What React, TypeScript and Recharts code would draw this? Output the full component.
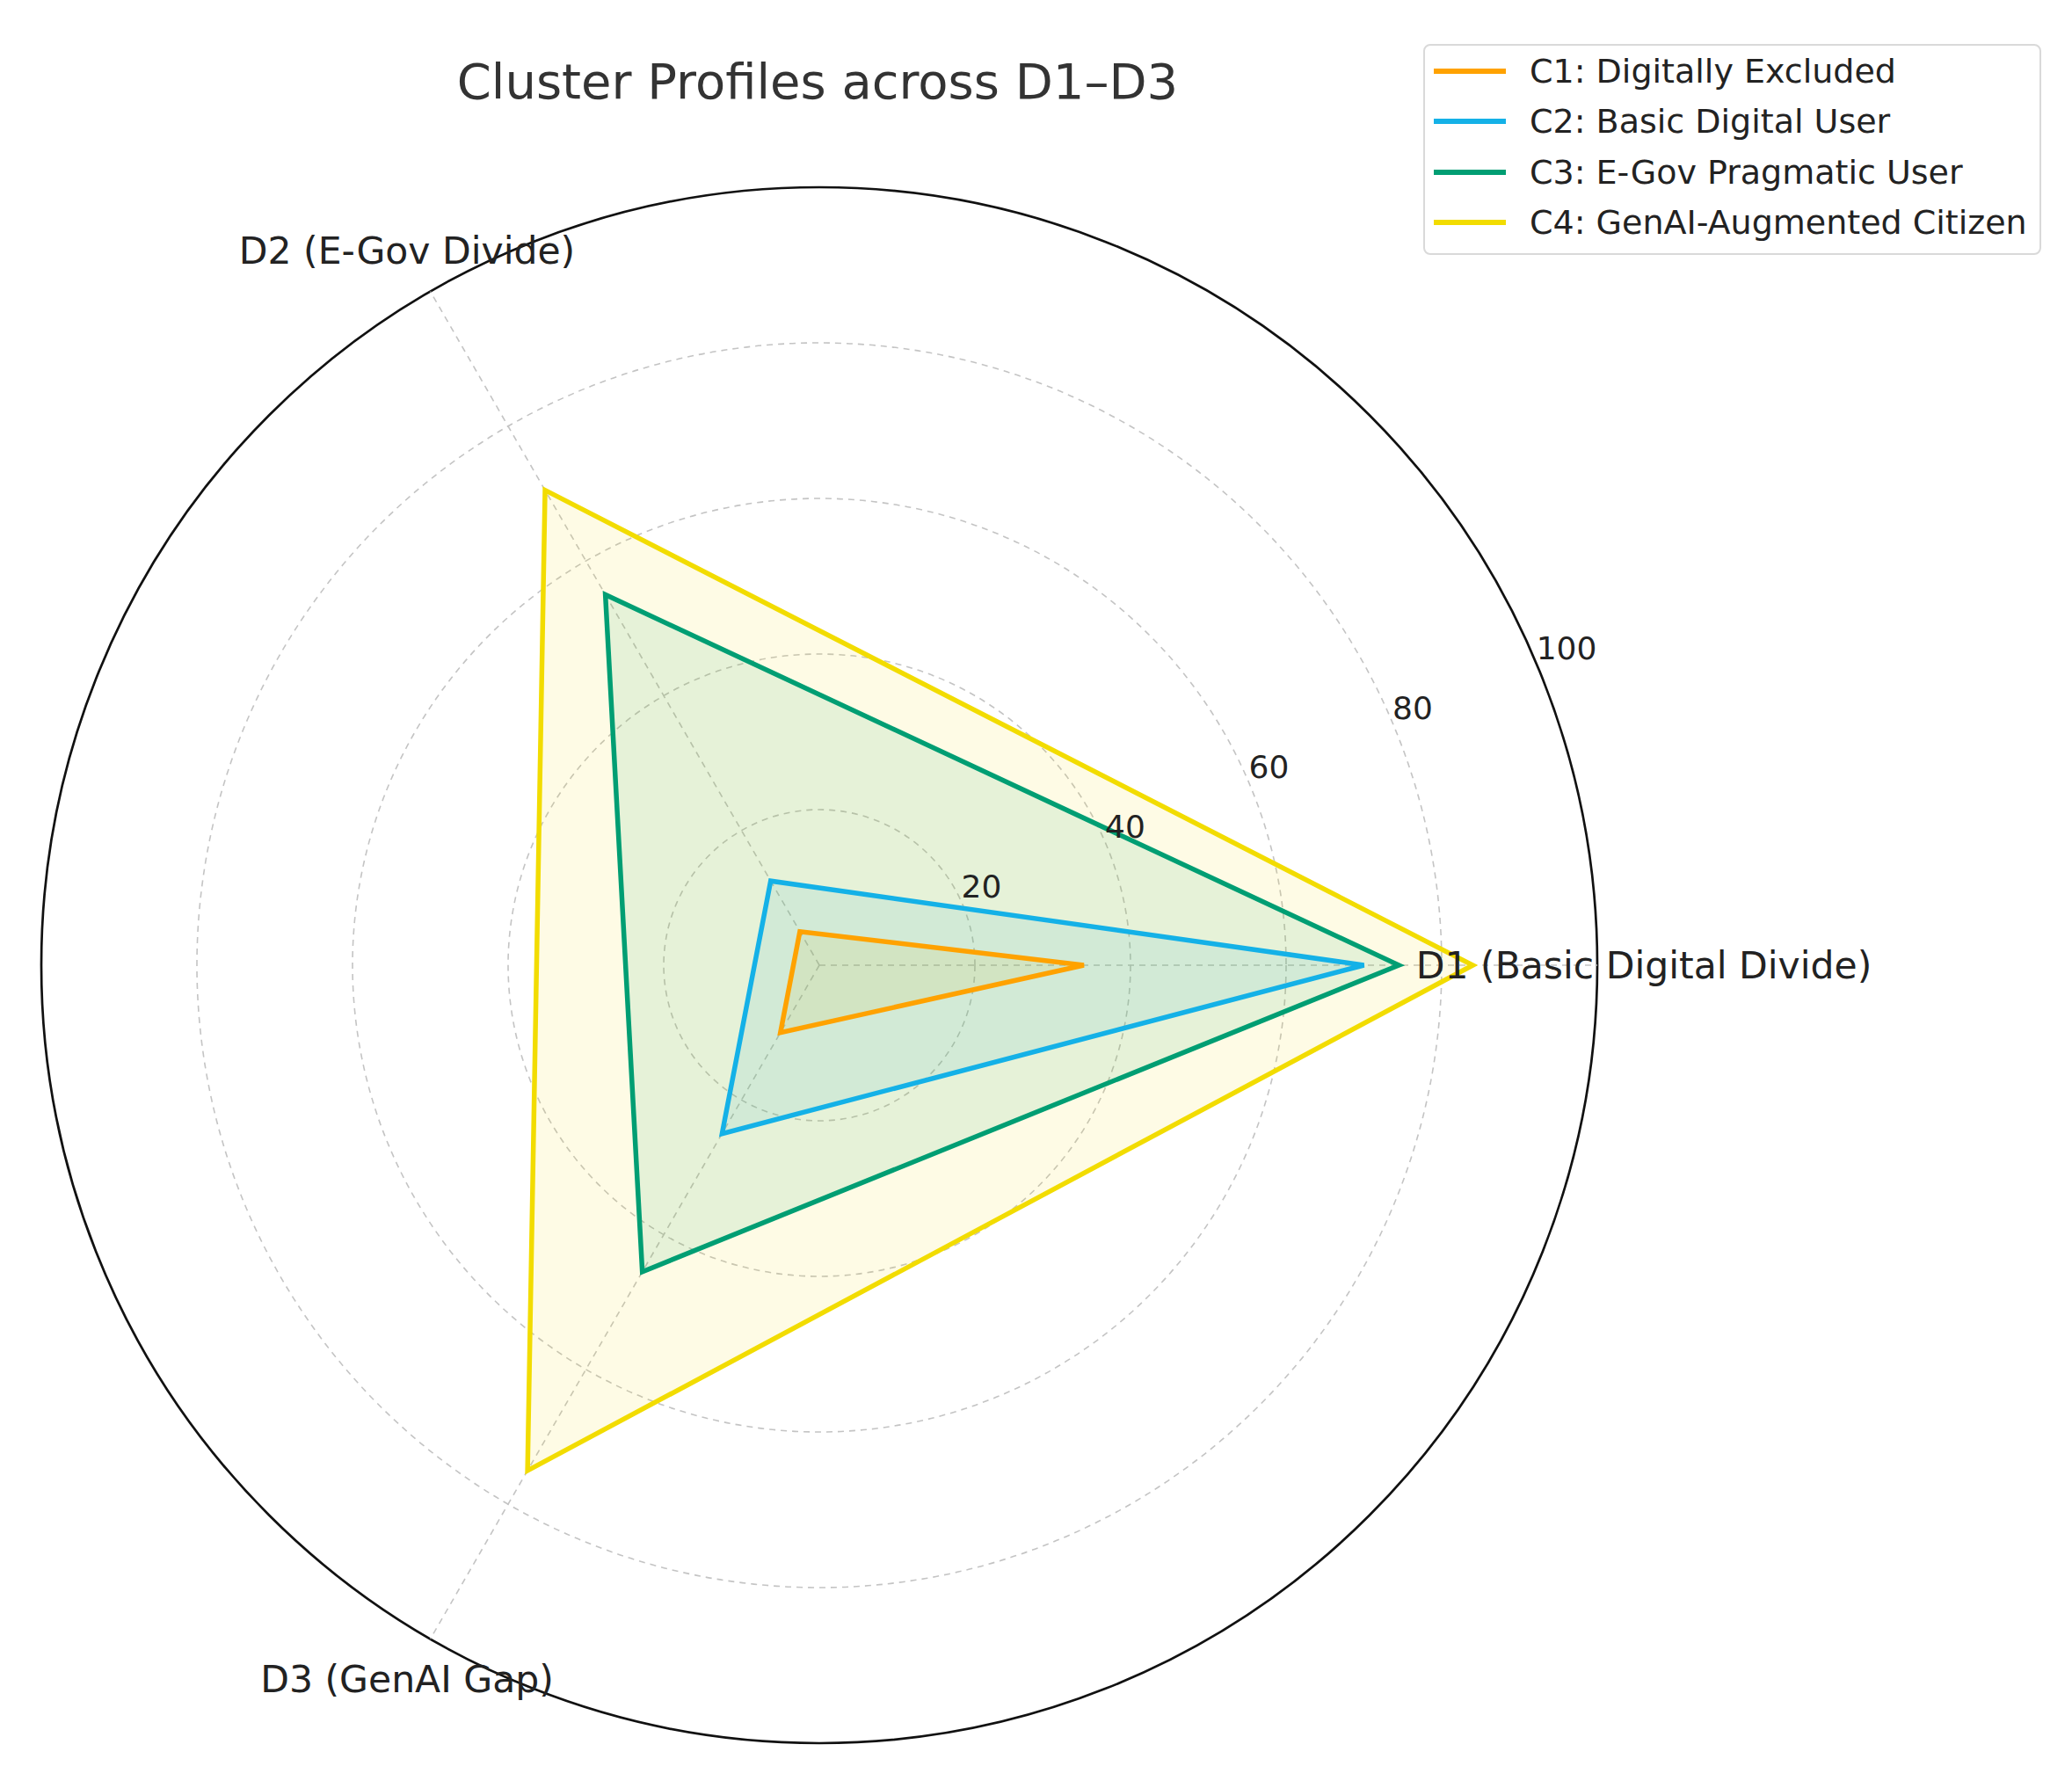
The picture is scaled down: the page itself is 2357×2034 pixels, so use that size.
import React from 'react'
import { RadarChart, Radar, PolarGrid, PolarAngleAxis, PolarRadiusAxis, Legend } from 'recharts'

const dimensions = ['D1 (Basic Digital Divide)', 'D2 (E-Gov Divide)', 'D3 (GenAI Gap)']
const clusterNames = [
  'C1: Digitally Excluded',
  'C2: Basic Digital User',
  'C3: E-Gov Pragmatic User',
  'C4: GenAI-Augmented Citizen',
]
const c1Values = [34, 5, 10]
const c2Values = [70, 12.5, 25]
const c3Values = [74.5, 55, 45.5]
const c4Values = [84, 70.5, 75]
const radiusTicks = [0, 20, 40, 60, 80, 100]

const colors = ['#FFA200', '#14B1E7', '#009E73', '#F2DC00']
const keys = ['c1', 'c2', 'c3', 'c4']

// axes run counter-clockwise from the right (D1, D2, D3); recharts goes clockwise,
// so feed them as D1, D3, D2
const drawOrder = [0, 2, 1]

const data = drawOrder.map((i) => ({
  dim: dimensions[i],
  c1: c1Values[i],
  c2: c2Values[i],
  c3: c3Values[i],
  c4: c4Values[i],
}))

const FONT = '"DejaVu Sans", Verdana, sans-serif'

function AngleTick(props: any) {
  const { x, y, payload } = props
  return (
    <text x={x} y={y} textAnchor="middle" dominantBaseline="central" fontSize={42.5} fill="#222" fontFamily={FONT}>
      {payload.value}
    </text>
  )
}

function RadiusTick(props: any) {
  const { x, y, payload } = props
  if (payload.value === 0) return null
  return (
    <text x={x - 2} y={y - 22} textAnchor="start" dominantBaseline="central" fontSize={36} fill="#222" fontFamily={FONT}>
      {payload.value}
    </text>
  )
}

function LegendBox(props: any) {
  const items = (props.payload || []).filter((p: any) => p.type !== 'none')
  return (
    <div
      style={{
        width: 699,
        height: 236,
        border: '2px solid #d9d9d9',
        borderRadius: 8,
        background: 'rgba(255,255,255,0.85)',
        fontFamily: FONT,
        fontSize: 38,
        color: '#222',
        boxSizing: 'content-box',
      }}
    >
      {items.map((item: any) => (
        <div key={item.value} style={{ display: 'flex', alignItems: 'center', height: 57.5 }}>
          <div style={{ marginLeft: 10, width: 82, height: 6, background: item.color }} />
          <span style={{ marginLeft: 27, whiteSpace: 'nowrap' }}>{item.value}</span>
        </div>
      ))}
    </div>
  )
}

export default function App() {
  return (
    <div style={{ position: 'absolute', left: 0, top: 0, width: 2357, height: 2034, background: '#fff' }}>
      <style>{`
        .recharts-polar-grid-concentric circle:last-of-type {
          stroke: #111;
          stroke-dasharray: none;
          stroke-width: 2.7;
        }
      `}</style>
      <div
        style={{
          position: 'absolute',
          left: 0,
          top: 65,
          width: 1860,
          textAlign: 'center',
          fontFamily: FONT,
          fontSize: 56,
          lineHeight: '56px',
          color: '#333',
        }}
      >
        Cluster Profiles across D1–D3
      </div>
      <RadarChart
        width={2357}
        height={2034}
        data={data}
        cx={932}
        cy={1098}
        outerRadius={885}
        startAngle={0}
        endAngle={-360}
        margin={{ top: 0, right: 0, bottom: 0, left: 0 }}
      >
        <PolarGrid gridType="circle" stroke="#c4c4c4" strokeWidth={1.6} strokeDasharray="7 6" />
        <PolarRadiusAxis
          angle={22.5}
          domain={[0, 100]}
          ticks={radiusTicks as any}
          tickCount={6}
          axisLine={false}
          tickLine={false}
          tick={<RadiusTick />}
        />
        {/* translucent fills first, outlines on top so colours stay clean */}
        {keys.map((k, i) => (
          <Radar
            key={k + '-fill'}
            dataKey={k}
            stroke="none"
            fill={colors[i]}
            fillOpacity={0.1}
            legendType="none"
            dot={false}
            isAnimationActive={false}
          />
        ))}
        {keys.map((k, i) => (
          <Radar
            key={k}
            name={clusterNames[i]}
            dataKey={k}
            stroke={colors[i]}
            strokeWidth={5.5}
            fill="none"
            fillOpacity={0}
            dot={false}
            isAnimationActive={false}
          />
        ))}
        <PolarAngleAxis dataKey="dim" tickLine={false} tickSize={53} axisLine={false} tick={<AngleTick />} />
        <Legend
          content={<LegendBox />}
          wrapperStyle={{ position: 'absolute', left: 1619, top: 50, width: 703, height: 240 }}
        />
      </RadarChart>
    </div>
  )
}
